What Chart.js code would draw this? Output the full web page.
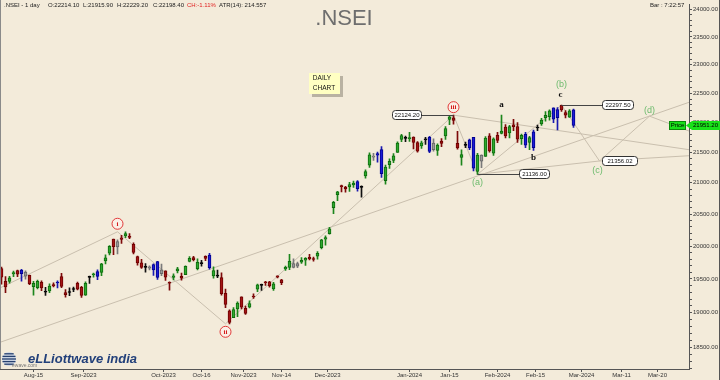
<!DOCTYPE html>
<html><head><meta charset="utf-8">
<script src="https://cdn.jsdelivr.net/npm/chart.js@4/dist/chart.umd.min.js"></script>
<style>html,body{margin:0;padding:0;background:#f3ebda;overflow:hidden}canvas{display:block}</style>
</head><body>
<canvas id="c" width="720" height="380"></canvas>
<script>
// ---------- DATA (NIFTY daily, Aug 2 2023 .. Feb 28 2024) ----------
const dates = ['2023-08-02','2023-08-03','2023-08-04','2023-08-07','2023-08-08','2023-08-09','2023-08-10','2023-08-11','2023-08-14','2023-08-16','2023-08-17','2023-08-18','2023-08-21','2023-08-22','2023-08-23','2023-08-24','2023-08-25','2023-08-28','2023-08-29','2023-08-30','2023-08-31',
'2023-09-01','2023-09-04','2023-09-05','2023-09-06','2023-09-07','2023-09-08','2023-09-11','2023-09-12','2023-09-13','2023-09-14','2023-09-15','2023-09-18','2023-09-20','2023-09-21','2023-09-22','2023-09-25','2023-09-26','2023-09-27','2023-09-28','2023-09-29',
'2023-10-03','2023-10-04','2023-10-05','2023-10-06','2023-10-09','2023-10-10','2023-10-11','2023-10-12','2023-10-13','2023-10-16','2023-10-17','2023-10-18','2023-10-19','2023-10-20','2023-10-23','2023-10-25','2023-10-26','2023-10-27','2023-10-30','2023-10-31',
'2023-11-01','2023-11-02','2023-11-03','2023-11-06','2023-11-07','2023-11-08','2023-11-09','2023-11-10','2023-11-12','2023-11-13','2023-11-15','2023-11-16','2023-11-17','2023-11-20','2023-11-21','2023-11-22','2023-11-23','2023-11-24','2023-11-28','2023-11-29','2023-11-30',
'2023-12-01','2023-12-04','2023-12-05','2023-12-06','2023-12-07','2023-12-08','2023-12-11','2023-12-12','2023-12-13','2023-12-14','2023-12-15','2023-12-18','2023-12-19','2023-12-20','2023-12-21','2023-12-22','2023-12-26','2023-12-27','2023-12-28','2023-12-29',
'2024-01-01','2024-01-02','2024-01-03','2024-01-04','2024-01-05','2024-01-08','2024-01-09','2024-01-10','2024-01-11','2024-01-12','2024-01-15','2024-01-16','2024-01-17','2024-01-18','2024-01-19','2024-01-20','2024-01-23','2024-01-24','2024-01-25','2024-01-29','2024-01-30','2024-01-31',
'2024-02-01','2024-02-02','2024-02-05','2024-02-06','2024-02-07','2024-02-08','2024-02-09','2024-02-12','2024-02-13','2024-02-14','2024-02-15','2024-02-16','2024-02-19','2024-02-20','2024-02-21','2024-02-22','2024-02-23','2024-02-26','2024-02-27','2024-02-28'];

const opens = [19655.4,19463.75,19462.8,19576.85,19627.2,19578.8,19605.55,19554.25,19383.95,19369.0,19450.55,19301.75,19320.65,19417.1,19439.2,19535.15,19297.4,19298.35,19343.55,19433.45,19375.55,
19258.15,19525.05,19563.95,19536.85,19598.65,19774.8,19890.0,20110.35,19989.5,20127.95,20156.45,20155.95,20026.2,19840.55,19744.85,19678.2,19682.8,19637.05,19761.8,19581.2,
19622.4,19446.3,19521.7,19621.2,19539.45,19565.65,19767.0,19822.7,19654.55,19737.25,19843.2,19860.8,19545.2,19542.15,19521.6,19286.45,19027.25,18928.75,19053.4,19232.95,
19064.05,19080.2,19241.0,19345.8,19404.15,19449.6,19457.45,19351.85,19547.25,19486.75,19651.4,19674.7,19674.0,19731.15,19753.8,19784.0,19828.45,19809.6,19844.65,19976.55,20108.5,
20194.1,20601.95,20808.9,20950.75,20932.4,20934.1,20965.3,21019.8,20929.6,21110.4,21287.45,21434.8,21477.65,21543.5,21033.95,21295.85,21365.2,21497.65,21715.0,21737.65,
21727.75,21751.35,21661.1,21605.8,21705.75,21747.6,21653.6,21529.3,21688.0,21773.55,22053.15,22080.5,21647.25,21414.2,21615.2,21706.15,21750.25,21185.25,21454.6,21433.1,21775.75,21487.25,
21780.65,21812.75,21921.05,21825.2,21957.5,21932.0,21727.45,21800.8,21664.3,21578.1,21906.0,21974.2,22079.5,22099.75,22248.85,22081.95,22290.0,22169.2,22090.2,22214.1];

const highs = [19678.25,19537.65,19538.85,19620.45,19634.4,19645.5,19623.6,19557.75,19465.85,19482.75,19472.05,19373.6,19425.95,19443.5,19472.05,19584.45,19339.55,19366.85,19377.9,19452.8,19388.2,
19458.55,19545.15,19587.05,19636.45,19737.0,19867.15,20008.15,20110.35,20096.9,20167.65,20222.45,20195.35,20050.35,19848.75,19798.65,19734.15,19699.35,19730.7,19766.85,19726.25,
19623.2,19457.8,19576.95,19675.75,19588.95,19699.35,19839.2,19843.65,19805.4,19781.3,19849.75,19887.4,19681.8,19635.3,19593.8,19347.3,19041.7,19076.15,19158.5,19233.7,
19096.3,19175.1,19276.25,19423.5,19423.5,19464.4,19463.9,19451.3,19547.25,19494.6,19693.2,19875.15,19806.0,19756.7,19825.55,19825.3,19875.25,19832.85,19916.85,20104.65,20158.7,
20291.55,20702.65,20864.05,20961.95,20941.25,21006.1,21026.1,21037.9,20950.7,21210.9,21492.3,21482.35,21505.05,21593.0,21288.35,21390.5,21477.15,21675.75,21801.45,21770.3,
21834.35,21755.6,21677.0,21685.65,21749.6,21763.95,21724.45,21641.85,21726.5,21928.25,22115.55,22124.15,21851.5,21539.4,21670.6,21720.3,21750.25,21482.35,21459.0,21763.25,21813.05,21741.35,
21832.95,22126.8,21964.6,21951.4,22053.3,21996.9,21804.45,21831.7,21766.8,21870.45,21953.85,22068.65,22186.65,22215.6,22249.4,22252.5,22297.5,22202.15,22218.25,22229.15];

const lows = [19423.55,19296.45,19436.45,19533.1,19533.1,19467.5,19495.4,19412.75,19257.9,19350.1,19326.45,19253.6,19296.3,19381.3,19366.6,19369.0,19229.7,19249.7,19309.1,19334.75,19223.65,
19255.7,19432.85,19525.75,19491.15,19550.05,19727.05,19865.35,19870.0,19879.85,20043.45,20129.7,20115.7,19878.5,19709.95,19657.5,19601.55,19637.45,19554.0,19492.1,19551.05,
19479.65,19333.6,19487.3,19589.4,19480.5,19565.45,19756.95,19772.65,19635.3,19691.8,19775.65,19647.55,19512.35,19518.7,19257.85,19074.15,18837.85,18926.65,18940.0,19056.45,
18973.7,19068.0,19210.9,19309.7,19329.1,19401.6,19378.0,19329.45,19514.35,19414.75,19628.45,19640.0,19667.5,19670.5,19735.0,19703.9,19786.7,19768.85,19800.0,19956.3,20015.85,
20183.7,20507.75,20711.15,20852.15,20850.8,20862.7,20923.7,20867.15,20769.5,21074.45,21250.0,21365.35,21337.75,21087.35,20976.8,21232.45,21329.45,21495.8,21678.0,21676.9,
21680.7,21555.65,21500.35,21564.55,21629.2,21492.9,21517.85,21448.65,21593.75,21715.15,21963.55,21969.8,21550.45,21285.55,21575.0,21541.8,21192.6,21137.2,21247.05,21429.6,21501.8,21448.85,
21658.75,21805.55,21737.55,21737.2,21860.15,21665.3,21629.9,21574.75,21543.35,21530.2,21860.0,21950.5,22021.05,22040.0,21997.95,21875.25,22186.1,22075.15,22085.55,21915.85];

const closes = [19526.55,19381.65,19517.0,19597.3,19570.85,19632.55,19543.1,19428.3,19434.55,19465.0,19365.25,19310.15,19393.6,19396.45,19444.0,19386.7,19265.8,19306.05,19342.65,19347.45,19253.8,
19435.3,19528.8,19574.9,19611.05,19727.05,19819.95,19996.35,19993.2,20070.0,20103.1,20192.35,20133.3,19901.4,19742.35,19674.25,19674.55,19664.7,19716.45,19523.55,19638.3,
19528.75,19436.1,19545.75,19653.5,19512.35,19689.85,19811.35,19794.0,19751.05,19731.75,19811.5,19671.1,19624.7,19542.65,19281.75,19122.15,18857.25,19047.25,19140.9,19079.6,
18989.15,19133.25,19230.6,19411.75,19406.7,19443.5,19395.3,19425.35,19525.55,19443.55,19675.45,19765.2,19731.8,19694.0,19783.4,19811.85,19802.0,19794.7,19889.7,20096.6,20133.15,
20267.9,20686.8,20855.1,20937.7,20901.15,20969.4,20997.1,20906.4,20926.35,21182.7,21456.65,21418.65,21453.1,21150.15,21255.05,21349.4,21441.35,21654.75,21778.7,21731.4,
21741.9,21665.8,21517.35,21658.6,21710.8,21513.0,21544.85,21618.7,21647.2,21894.55,22097.45,22032.3,21571.95,21462.25,21622.4,21571.8,21238.8,21453.95,21352.6,21737.6,21522.1,21725.7,
21697.45,21853.8,21771.7,21929.4,21930.5,21717.95,21782.5,21616.05,21743.25,21840.05,21910.75,22040.7,22122.25,22196.95,22055.05,22217.45,22212.7,22122.05,22198.35,21951.15];

// x-axis tick labels and their positions (bar-index units, future part in calendar days)
const xTickLabels = ['Aug-15','Sep-2023','Oct-2023','Oct-16','Nov-2023','Nov-14','Dec-2023','Jan-2024','Jan-15','Feb-2024','Feb-15','Mar-2024','Mar-11','Mar-20'];
const xTickIndex  = [8, 20.5, 40.5, 50, 60.5, 70, 81.5, 102, 112, 124, 133.5, 145, 155, 164];
// y-axis labelled ticks
const yTickValues = [18500,19000,19500,20000,20500,21000,21500,22000,22500,23000,23500,24000];

// Elliott wave pivots (bar index, price)
const waveIdx   = [-0.375, 29, 56, 113, 119, 140, 149.5, 162, 171.875];
const wavePrice = [19366, 20222.45, 18837.85, 22124.15, 21137.2, 22297.5, 21356.02, 22107, 21855];
// trend lines
const trendA = {idx:[-0.375, 171.875], price:[18571, 22344]};
const trendB = {idx:[113, 171.875], price:[22124.15, 21543]};
const trendC = {idx:[119, 149.5, 171.875], price:[21137.2, 21356.02, 21443]};
// minor wave a-b-c (bar index, price)
const minorIdx = [125, 133, 140];
const minorPrice = [22126.8, 21530.2, 22297.5];
const minorNames = ['a','b','c'];

const header = {sym:'.NSEI - 1 day', o:'O:22214.10', l:'L:21915.90', h:'H:22229.20', c:'C:22198.40', ch:'CH:-1.11%', atr:'ATR(14): 214.557'};
const lastPrice = 21951.20;

// ---------- helpers ----------
function kind(i){
  const o=opens[i], c=closes[i], h=highs[i], l=lows[i];
  if (i>0 && h>highs[i-1] && l<lows[i-1]) return 'out';
  if (Math.abs(c-o) <= 0.08*(h-l)) return 'doji';
  if (i>0 && h<highs[i-1] && l>lows[i-1]) return 'in';
  return c>=o ? 'up' : 'dn';
}
const PAL = {
  up:  {fill:'#2ea82e', edge:'#0d6b0d', wick:'#1c861c'},
  dn:  {fill:'#a31515', edge:'#6e0000', wick:'#7d0a0a'},
  out: {fill:'#1b1bd6', edge:'#00008c', wick:'#1a1ab0'},
  in:  {fill:'#9a9a9a', edge:'#666666', wick:'#7a7a7a'},
  doji:{fill:'#111111', edge:'#000000', wick:'#111111'}
};
const kinds = closes.map((_,i)=>kind(i));
const bodyData = closes.map((c,i)=>({x:i, y:[Math.min(opens[i],c), Math.max(opens[i],c)]}));
const wickData = closes.map((c,i)=>({x:i, y:[lows[i], highs[i]]}));
const pts = (ix, pr) => ix.map((x,k)=>({x:x, y:pr[k]}));
const LINE = '#c9bfae';
const FONT = '"Liberation Sans", Arial, sans-serif';

function rrect(ctx,x,y,w,h,r){ctx.beginPath();ctx.moveTo(x+r,y);ctx.lineTo(x+w-r,y);ctx.quadraticCurveTo(x+w,y,x+w,y+r);ctx.lineTo(x+w,y+h-r);ctx.quadraticCurveTo(x+w,y+h,x+w-r,y+h);ctx.lineTo(x+r,y+h);ctx.quadraticCurveTo(x,y+h,x,y+h-r);ctx.lineTo(x,y+r);ctx.quadraticCurveTo(x,y,x+r,y);ctx.closePath();}

const bgPlugin = {id:'bg', beforeDraw(chart){const c=chart.ctx;c.save();c.fillStyle='#f3ebda';c.fillRect(0,0,chart.width,chart.height);c.restore();}};

const overlay = {
  id:'overlay',
  afterDraw(chart){
    const ctx = chart.ctx, xs = chart.scales.x, ys = chart.scales.y, ca = chart.chartArea;
    const X = v=>xs.getPixelForValue(v), Y = v=>ys.getPixelForValue(v);
    ctx.save();
    // borders
    ctx.strokeStyle='#8a8a8a'; ctx.lineWidth=1;
    ctx.beginPath(); ctx.moveTo(0.5,0); ctx.lineTo(0.5,ca.bottom); ctx.stroke();
    ctx.strokeStyle='#555'; ctx.beginPath(); ctx.moveTo(719.5,0); ctx.lineTo(719.5,380); ctx.stroke();

    // header
    ctx.textBaseline='middle'; ctx.textAlign='left'; ctx.font='6px '+FONT; ctx.fillStyle='#222';
    ctx.fillText(header.sym,4,5); ctx.fillText(header.o,48,5); ctx.fillText(header.l,83,5);
    ctx.fillText(header.h,117,5); ctx.fillText(header.c,153,5);
    ctx.fillStyle='#e02020'; ctx.fillText(header.ch,187,5);
    ctx.fillStyle='#222'; ctx.fillText(header.atr,219,5);
    ctx.fillText('Bar : 7:22:57',650,5);
    // title
    ctx.font='22px '+FONT; ctx.fillStyle='#6e6e6e'; ctx.textAlign='center'; ctx.textBaseline='alphabetic';
    ctx.fillText('.NSEI',344,25);

    // DAILY CHART box
    ctx.fillStyle='#b9b2a2'; ctx.fillRect(312,76,31,21);
    ctx.fillStyle='#ffffc2'; ctx.fillRect(309,73,31,21);
    ctx.fillStyle='#111'; ctx.font='6.5px '+FONT; ctx.textAlign='center'; ctx.textBaseline='middle';
    ctx.fillText('DAILY',322,78); ctx.fillText('CHART',324,88);

    // dark connector lines + value boxes
    function valBox(x,y,w,text){
      rrect(ctx,x+0.5,y-4.5,w,9,3); ctx.fillStyle='#ffffff'; ctx.fill(); ctx.strokeStyle='#333'; ctx.lineWidth=1; ctx.stroke();
      ctx.fillStyle='#111'; ctx.font='6px '+FONT; ctx.textAlign='center'; ctx.textBaseline='middle'; ctx.fillText(text,x+w/2+0.5,y+0.5);
    }
    function conn(x1,x2,y){ctx.strokeStyle='#444';ctx.lineWidth=1;ctx.beginPath();ctx.moveTo(x1,Math.round(y)+0.5);ctx.lineTo(x2,Math.round(y)+0.5);ctx.stroke();}
    const yiii=Y(wavePrice[3]), ya=Y(wavePrice[4]), yb=Y(wavePrice[5]), yc=Y(wavePrice[6]);
    conn(420,X(waveIdx[3]),yiii); valBox(392,Math.round(yiii),29,'22124.20');
    conn(X(waveIdx[4]),520,ya); valBox(519,Math.round(ya),30,'21136.00');
    conn(X(minorIdx[2]),603,yb); valBox(602,Math.round(yb),31,'22297.50');
    valBox(602,Math.round(yc),35,'21356.02');

    // circled wave labels
    function circ(x,y,t){
      ctx.beginPath(); ctx.arc(x,y,5.5,0,Math.PI*2); ctx.fillStyle='#fbefe6'; ctx.fill();
      ctx.strokeStyle='#e23a3a'; ctx.lineWidth=1; ctx.stroke();
      ctx.fillStyle='#d41c1c'; ctx.font='bold 7px "Liberation Serif", serif'; ctx.textAlign='center'; ctx.textBaseline='middle';
      ctx.fillText(t,x,y+0.5);
    }
    circ(X(waveIdx[1]), Y(wavePrice[1])-8, 'i');
    circ(X(waveIdx[2]), Y(wavePrice[2])+8, 'ii');
    circ(X(waveIdx[3]), Y(wavePrice[3])-8, 'iii');

    // minor a b c
    ctx.fillStyle='#111'; ctx.font='bold 9px "Liberation Serif", serif'; ctx.textAlign='center'; ctx.textBaseline='middle';
    ctx.fillText(minorNames[0], X(minorIdx[0]), Y(minorPrice[0])-10);
    ctx.fillText(minorNames[1], X(minorIdx[1]), Y(minorPrice[1])+7);
    ctx.fillText(minorNames[2], X(minorIdx[2])-1, Y(minorPrice[2])-10);

    // green (a)(b)(c)(d)
    ctx.fillStyle='#6dbb6d'; ctx.font='9px '+FONT;
    ctx.fillText('(a)', X(waveIdx[4]), Y(wavePrice[4])+8);
    ctx.fillText('(b)', X(waveIdx[5]), Y(wavePrice[5])-20);
    ctx.fillText('(c)', X(waveIdx[6])-2, Y(wavePrice[6])+10);
    ctx.fillText('(d)', X(waveIdx[7]), Y(wavePrice[7])-6);

    // price tags
    const yp = Math.round(Y(lastPrice));
    ctx.fillStyle='#19e019'; ctx.fillRect(669,yp-4,17,9); ctx.strokeStyle='#0a8a0a'; ctx.strokeRect(669.5,yp-3.5,16,8);
    ctx.fillStyle='#000'; ctx.font='6px '+FONT; ctx.textAlign='center'; ctx.fillText('Price',677.5,yp+0.5);
    ctx.beginPath(); ctx.moveTo(686,yp+0.5); ctx.lineTo(692,yp-4); ctx.lineTo(720,yp-4); ctx.lineTo(720,yp+5); ctx.lineTo(692,yp+5); ctx.closePath();
    ctx.fillStyle='#19e019'; ctx.fill();
    ctx.fillStyle='#000'; ctx.font='6px '+FONT; ctx.textAlign='left'; ctx.fillText(lastPrice.toFixed(2),693,yp+0.5);

    // logo
    const gx=9, gy=359;
    ctx.beginPath(); ctx.arc(gx,gy,7,0,Math.PI*2); ctx.fillStyle='#cfd8e6'; ctx.fill();
    ctx.strokeStyle='#26406e'; ctx.lineWidth=1.3;
    for (let k=-2;k<=2;k++){ ctx.beginPath(); const yy=gy+k*2.6; const hw=Math.sqrt(Math.max(0,49-(k*2.6)*(k*2.6))); ctx.moveTo(gx-hw,yy); ctx.lineTo(gx+hw,yy); ctx.stroke(); }
    ctx.font='italic bold 13px '+FONT; ctx.fillStyle='#22407a'; ctx.textAlign='left'; ctx.textBaseline='alphabetic';
    ctx.fillText('eLLiottwave india',28,363);
    ctx.font='5px '+FONT; ctx.fillStyle='#777'; ctx.fillText('ewave.com',12,367);
    ctx.restore();
  }
};

new Chart(document.getElementById('c'), {
  data: {
    datasets: [
      {type:'bar', label:'body', data: bodyData, order:0, grouped:false, barThickness:3, minBarLength:1,
       backgroundColor: kinds.map(k=>PAL[k].fill), borderColor: kinds.map(k=>PAL[k].edge), borderWidth:1, borderSkipped:false},
      {type:'bar', label:'wick', data: wickData, order:1, grouped:false, barThickness:1,
       backgroundColor: kinds.map(k=>PAL[k].wick), borderWidth:0},
      {type:'line', label:'wave', data: pts(waveIdx,wavePrice), order:2, borderColor:LINE, borderWidth:1, pointRadius:0, tension:0},
      {type:'line', label:'tA', data: pts(trendA.idx,trendA.price), order:3, borderColor:LINE, borderWidth:1, pointRadius:0},
      {type:'line', label:'tB', data: pts(trendB.idx,trendB.price), order:3, borderColor:LINE, borderWidth:1, pointRadius:0},
      {type:'line', label:'tC', data: pts(trendC.idx,trendC.price), order:3, borderColor:LINE, borderWidth:1, pointRadius:0}
    ]
  },
  options: {
    responsive:false, animation:false, devicePixelRatio:1,
    layout:{padding:0, autoPadding:false},
    plugins:{legend:{display:false}, tooltip:{enabled:false}, title:{display:false}},
    scales:{
      x:{type:'linear', min:-0.375, max:171.875, offset:false,
         grid:{display:true, offset:false, drawOnChartArea:false, drawTicks:true, tickLength:3, color:'#555'},
         border:{display:true, color:'#555'},
         afterBuildTicks: s => { s.ticks = xTickIndex.map(v=>({value:v})); },
         afterFit: s => { s.height = 11; },
         ticks:{autoSkip:false, maxRotation:0, padding:0, color:'#333', font:{size:6, family:FONT},
                callback:(v)=>{const k=xTickIndex.indexOf(v); return k>=0?xTickLabels[k]:'';}}},
      y:{type:'logarithmic', position:'right', min:18193, max:24091.5,
         grid:{display:true, drawOnChartArea:false, drawTicks:true, tickLength:3, color:'#555'},
         border:{display:true, color:'#555'},
         afterBuildTicks: s => { const t=[]; for(let v=18200; v<=24000; v+=100) t.push({value:v}); s.ticks=t; },
         afterFit: s => { s.width = 31; },
         ticks:{autoSkip:false, padding:1, color:'#333', font:{size:6, family:FONT},
                callback:(v)=> yTickValues.includes(v) ? v.toFixed(2) : ''}}
    }
  },
  plugins:[bgPlugin, overlay]
});
</script>
</body></html>
